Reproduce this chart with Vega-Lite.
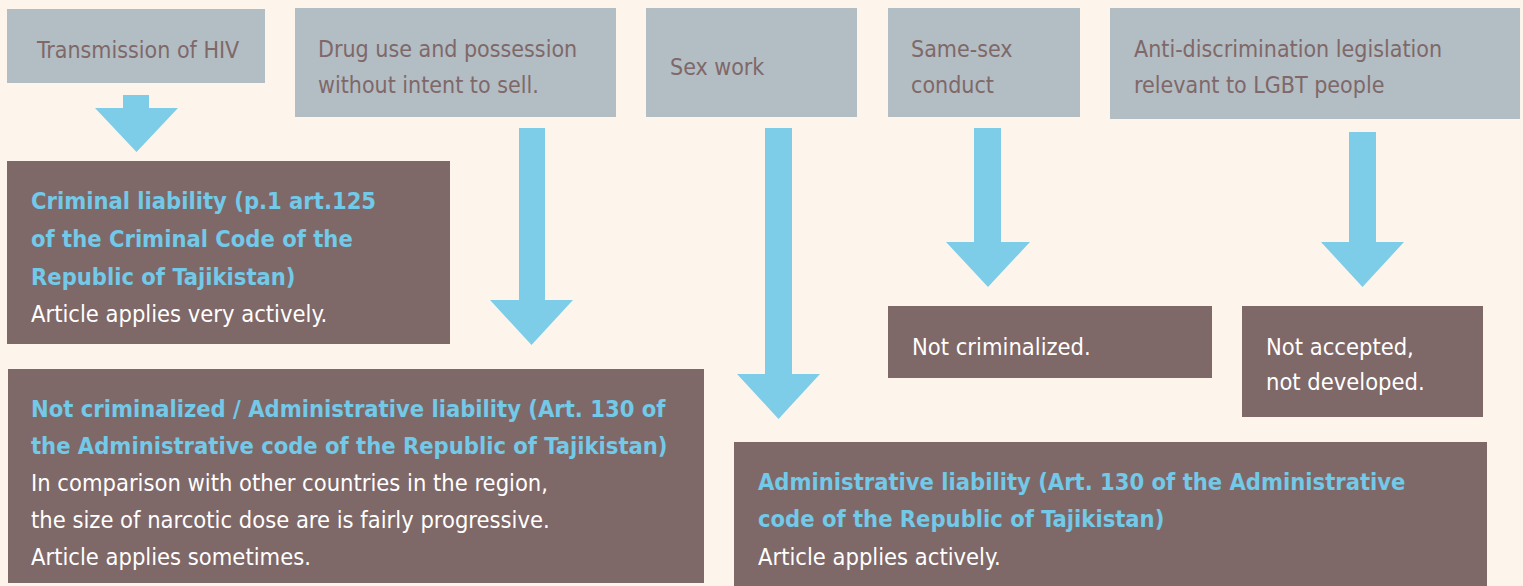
{
  "$schema": "https://vega.github.io/schema/vega-lite/v6.json",
  "width": 1523,
  "height": 586,
  "autosize": {"type": "fit", "contains": "padding"},
  "padding": 0,
  "background": "#fdf5ec",
  "config": {"view": {"stroke": null}},
  "datasets": {
    "grayboxes": [
      {"x": 7, "x2": 265, "y": 9, "y2": 83},
      {"x": 295, "x2": 616, "y": 8, "y2": 117},
      {"x": 646, "x2": 857, "y": 8, "y2": 117},
      {"x": 888, "x2": 1080, "y": 8, "y2": 117},
      {"x": 1110, "x2": 1520, "y": 8, "y2": 119}
    ],
    "brownboxes": [
      {"x": 7, "x2": 450, "y": 161, "y2": 344},
      {"x": 8, "x2": 704, "y": 369, "y2": 583},
      {"x": 734, "x2": 1487, "y": 442, "y2": 586},
      {"x": 888, "x2": 1212, "y": 306, "y2": 378},
      {"x": 1242, "x2": 1483, "y": 306, "y2": 417}
    ],
    "shafts": [
      {"x": 123, "x2": 149, "y": 95, "y2": 109},
      {"x": 519, "x2": 545, "y": 128, "y2": 301},
      {"x": 765, "x2": 792, "y": 128, "y2": 375},
      {"x": 974, "x2": 1001, "y": 128, "y2": 243},
      {"x": 1349, "x2": 1376, "y": 132, "y2": 243}
    ],
    "heads": [
      {"arrow": "hiv", "x": 95, "y": 108, "y2": 108},
      {"arrow": "hiv", "x": 136.5, "y": 108, "y2": 152},
      {"arrow": "hiv", "x": 178, "y": 108, "y2": 108},
      {"arrow": "drug", "x": 490, "y": 300, "y2": 300},
      {"arrow": "drug", "x": 531.5, "y": 300, "y2": 345},
      {"arrow": "drug", "x": 573, "y": 300, "y2": 300},
      {"arrow": "sex", "x": 737, "y": 374, "y2": 374},
      {"arrow": "sex", "x": 778.5, "y": 374, "y2": 419},
      {"arrow": "sex", "x": 820, "y": 374, "y2": 374},
      {"arrow": "same", "x": 946, "y": 242, "y2": 242},
      {"arrow": "same", "x": 988, "y": 242, "y2": 287},
      {"arrow": "same", "x": 1030, "y": 242, "y2": 242},
      {"arrow": "anti", "x": 1321, "y": 242, "y2": 242},
      {"arrow": "anti", "x": 1362.5, "y": 242, "y2": 287},
      {"arrow": "anti", "x": 1404, "y": 242, "y2": 242}
    ],
    "headers": [
      {"x": 37, "y": 58, "text": "Transmission of HIV"},
      {"x": 318, "y": 57, "text": "Drug use and possession"},
      {"x": 318, "y": 93, "text": "without intent to sell."},
      {"x": 670, "y": 75, "text": "Sex work"},
      {"x": 911, "y": 57, "text": "Same-sex"},
      {"x": 911, "y": 93, "text": "conduct"},
      {"x": 1134, "y": 57, "text": "Anti-discrimination legislation"},
      {"x": 1134, "y": 93, "text": "relevant to LGBT people"}
    ],
    "boldtexts": [
      {"x": 31, "y": 209, "text": "Criminal  liability (p.1 art.125"},
      {"x": 31, "y": 247, "text": "of the Criminal Code of the"},
      {"x": 31, "y": 285, "text": "Republic of Tajikistan)"},
      {"x": 31, "y": 417, "text": "Not criminalized / Administrative liability (Art. 130 of"},
      {"x": 31, "y": 454, "text": "the Administrative code of the Republic of Tajikistan)"},
      {"x": 758, "y": 490, "text": "Administrative liability (Art. 130 of the Administrative"},
      {"x": 758, "y": 527, "text": "code of the Republic of Tajikistan)"}
    ],
    "plaintexts": [
      {"x": 31, "y": 322, "text": "Article applies very actively."},
      {"x": 31, "y": 491, "text": "In comparison with other countries in the region,"},
      {"x": 31, "y": 528, "text": "the size of  narcotic dose are is fairly progressive."},
      {"x": 31, "y": 565, "text": "Article applies sometimes."},
      {"x": 758, "y": 565, "text": "Article applies actively."},
      {"x": 912, "y": 355, "text": "Not criminalized."},
      {"x": 1266, "y": 355, "text": "Not accepted,"},
      {"x": 1266, "y": 390, "text": "not developed."}
    ]
  },
  "layer": [
    {
      "data": {"name": "grayboxes"},
      "mark": {"type": "rect", "color": "#b3bdc4"},
      "encoding": {
        "x": {"field": "x", "type": "quantitative", "scale": {"domain": [0, 1523], "nice": false, "zero": false}, "axis": null},
        "x2": {"field": "x2"},
        "y": {"field": "y", "type": "quantitative", "scale": {"domain": [0, 586], "nice": false, "zero": false, "reverse": true}, "axis": null},
        "y2": {"field": "y2"}
      }
    },
    {
      "data": {"name": "brownboxes"},
      "mark": {"type": "rect", "color": "#7f6868"},
      "encoding": {
        "x": {"field": "x", "type": "quantitative", "axis": null},
        "x2": {"field": "x2"},
        "y": {"field": "y", "type": "quantitative", "axis": null},
        "y2": {"field": "y2"}
      }
    },
    {
      "data": {"name": "shafts"},
      "mark": {"type": "rect", "color": "#7dcce8"},
      "encoding": {
        "x": {"field": "x", "type": "quantitative", "axis": null},
        "x2": {"field": "x2"},
        "y": {"field": "y", "type": "quantitative", "axis": null},
        "y2": {"field": "y2"}
      }
    },
    {
      "data": {"name": "heads"},
      "mark": {"type": "area", "color": "#7dcce8", "opacity": 1},
      "encoding": {
        "x": {"field": "x", "type": "quantitative", "axis": null},
        "y": {"field": "y", "type": "quantitative", "axis": null},
        "y2": {"field": "y2"},
        "detail": {"field": "arrow", "type": "nominal"}
      }
    },
    {
      "data": {"name": "headers"},
      "mark": {"type": "text", "align": "left", "baseline": "alphabetic", "font": "DejaVu Sans Condensed, sans-serif", "fontSize": 23, "color": "#7f6868"},
      "encoding": {
        "x": {"field": "x", "type": "quantitative", "axis": null},
        "y": {"field": "y", "type": "quantitative", "axis": null},
        "text": {"field": "text"}
      }
    },
    {
      "data": {"name": "boldtexts"},
      "mark": {"type": "text", "align": "left", "baseline": "alphabetic", "font": "DejaVu Sans Condensed, sans-serif", "fontWeight": "bold", "fontSize": 23.5, "color": "#72c9e8"},
      "encoding": {
        "x": {"field": "x", "type": "quantitative", "axis": null},
        "y": {"field": "y", "type": "quantitative", "axis": null},
        "text": {"field": "text"}
      }
    },
    {
      "data": {"name": "plaintexts"},
      "mark": {"type": "text", "align": "left", "baseline": "alphabetic", "font": "DejaVu Sans Condensed, sans-serif", "fontSize": 23.5, "color": "#ffffff"},
      "encoding": {
        "x": {"field": "x", "type": "quantitative", "axis": null},
        "y": {"field": "y", "type": "quantitative", "axis": null},
        "text": {"field": "text"}
      }
    }
  ]
}
